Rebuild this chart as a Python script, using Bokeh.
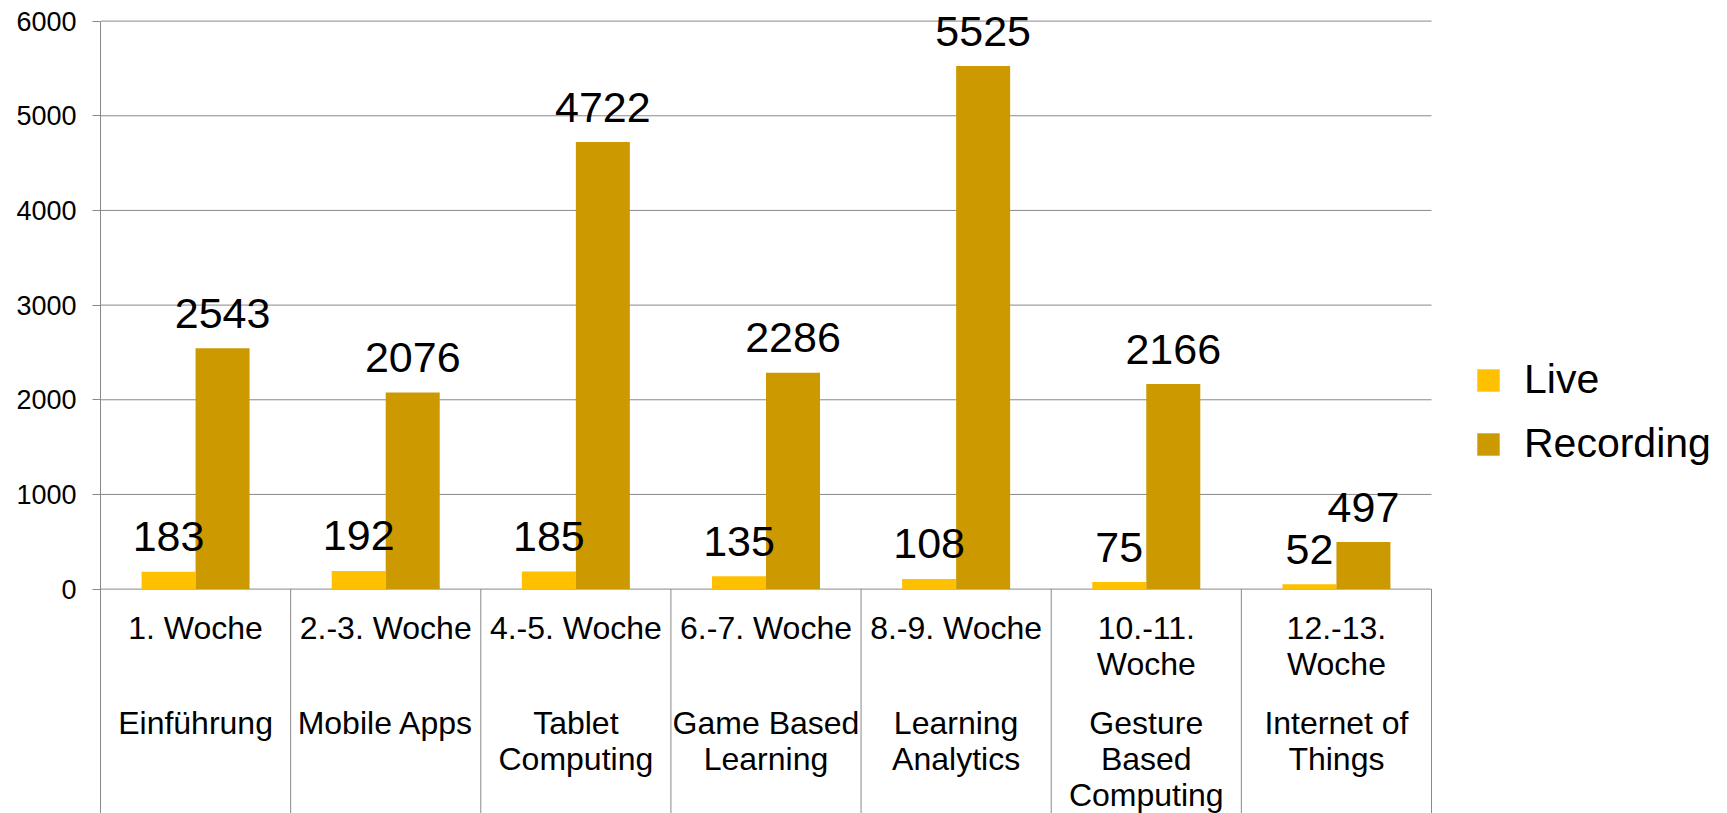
from bokeh.plotting import figure
from bokeh.models import ColumnDataSource, Range1d, FixedTicker, Legend, LegendItem
from bokeh.core.properties import value
from bokeh.embed import file_html
from bokeh.resources import INLINE

# ---------------- data ----------------
categories = ["Einführung", "Mobile Apps", "Tablet Computing", "Game Based Learning",
              "Learning Analytics", "Gesture Based Computing", "Internet of Things"]
week_labels = ["1. Woche", "2.-3. Woche", "4.-5. Woche", "6.-7. Woche", "8.-9. Woche",
               "10.-11.\nWoche", "12.-13.\nWoche"]
topic_labels = ["Einführung", "Mobile Apps", "Tablet\nComputing", "Game Based\nLearning",
                "Learning\nAnalytics", "Gesture\nBased\nComputing", "Internet of\nThings"]
live = [183, 192, 185, 135, 108, 75, 52]
recording = [2543, 2076, 4722, 2286, 5525, 2166, 497]
series_names = ["Live", "Recording"]
y_ticks = [0, 1000, 2000, 3000, 4000, 5000, 6000]

# ---------------- style / layout ----------------
FONT = "Liberation Sans"
C_LIVE = "#FFC000"
C_REC = "#CC9900"
GRAY = "#898989"
W, H = 1727, 813
LEFT = 100              # canvas x of the value axis
CAT_RIGHT = 1431        # canvas x where the category block ends
ZERO_PX = 588.6         # canvas y of value 0
TOP_PX = 20.6           # canvas y of value 6000
ppu = (ZERO_PX - TOP_PX) / y_ticks[-1]
y_start = -(H - ZERO_PX) / ppu
y_end = y_ticks[-1] + TOP_PX / ppu
n = len(categories)
x_end = n * (W - LEFT) / (CAT_RIGHT - LEFT)
BAR_W = 0.284

p = figure(width=W, height=H, output_backend="svg", toolbar_location=None,
           x_range=Range1d(0, x_end), y_range=Range1d(y_start, y_end),
           x_axis_location=None, min_border_left=LEFT, min_border_right=0,
           min_border_top=0, min_border_bottom=0)
p.outline_line_color = None
p.xgrid.grid_line_color = None
p.ygrid.grid_line_color = None

ya = p.yaxis[0]
ya.ticker = FixedTicker(ticks=y_ticks)
ya.bounds = (y_start, y_ticks[-1])
ya.axis_line_color = GRAY
ya.major_tick_line_color = GRAY
ya.major_tick_in = 0
ya.major_tick_out = 8
ya.minor_tick_line_color = None
ya.major_label_standoff = 16
ya.major_label_text_font = FONT
ya.major_label_text_font_size = "27px"
ya.major_label_text_color = "black"

# horizontal gridlines over the category block only
p.segment(x0=[0] * len(y_ticks), x1=[n] * len(y_ticks), y0=y_ticks, y1=y_ticks,
          line_color=GRAY, line_width=1)

centers = [i + 0.5 for i in range(n)]
src = ColumnDataSource(dict(
    xc=centers,
    x_live=[c - BAR_W / 2 for c in centers],
    x_rec=[c + BAR_W / 2 for c in centers],
    xb=[c + 0.5 for c in centers],
    live=live, recording=recording,
    live_txt=[str(v) for v in live], rec_txt=[str(v) for v in recording],
    zero=[0] * n, bottom=[y_start] * n))

# category separators below the zero line
p.segment(x0="xb", x1="xb", y0="zero", y1="bottom", source=src, line_color=GRAY, line_width=1)

r_live = p.vbar(x="x_live", top="live", width=BAR_W, source=src, fill_color=C_LIVE, line_color=None)
r_rec = p.vbar(x="x_rec", top="recording", width=BAR_W, source=src, fill_color=C_REC, line_color=None)

for xf, fld, txt in (("x_live", "live", "live_txt"), ("x_rec", "recording", "rec_txt")):
    p.text(x=xf, y=fld, text=txt, source=src,
           text_align="center", text_baseline="alphabetic", y_offset=-35,
           text_font=value(FONT), text_font_size=value("43px"), text_color="black")

# category labels (two groups of lines under each category)
rows = dict(x=[], txt=[], off=[])
for c, wk, tp in zip(centers, week_labels, topic_labels):
    for base, lh, lab in ((38.7, 36.3, wk), (133.7, 36.3, tp)):
        for i, line in enumerate(lab.split("\n")):
            rows["x"].append(c)
            rows["txt"].append(line)
            rows["off"].append(base + i * lh)
rows["y"] = [0] * len(rows["x"])
p.text(x="x", y="y", text="txt", y_offset="off", source=ColumnDataSource(rows),
       text_align="center", text_baseline="alphabetic",
       text_font=value(FONT), text_font_size=value("32px"), text_color="black")

legend = Legend(items=[LegendItem(label=series_names[0], renderers=[r_live]),
                       LegendItem(label=series_names[1], renderers=[r_rec])],
                location=(1374, 346), orientation="vertical",
                glyph_width=28, glyph_height=28, label_standoff=22,
                label_text_font=FONT, label_text_font_size="41px",
                label_text_color="black", label_text_baseline="middle",
                spacing=17, padding=0, margin=0,
                border_line_color=None, background_fill_color=None,
                background_fill_alpha=0)
p.add_layout(legend)

open("out.html", "w").write(file_html(p, INLINE))
